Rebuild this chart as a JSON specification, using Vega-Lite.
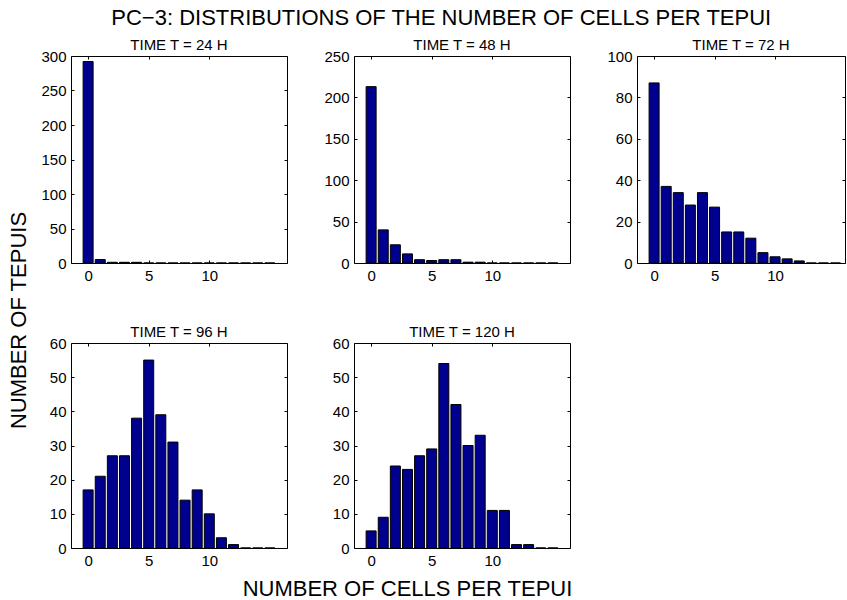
{
  "$schema": "https://vega.github.io/schema/vega-lite/v6.json",
  "padding": {"left": 6, "top": 6, "right": 0, "bottom": 0},
  "title": {"text": "PC−3: DISTRIBUTIONS OF THE NUMBER OF CELLS PER TEPUI", "fontSize": 22, "anchor": "middle", "fontWeight": "normal", "color": "#000", "offset": 8, "dx": 15, "frame": "bounds"},
  "data": {"values": [
    {"t": 24, "cells": 0, "count": 292}, {"t": 24, "cells": 1, "count": 5}, {"t": 24, "cells": 2, "count": 1}, {"t": 24, "cells": 3, "count": 1},
    {"t": 24, "cells": 4, "count": 1}, {"t": 24, "cells": 5, "count": 0}, {"t": 24, "cells": 6, "count": 0}, {"t": 24, "cells": 7, "count": 0},
    {"t": 24, "cells": 8, "count": 0}, {"t": 24, "cells": 9, "count": 0}, {"t": 24, "cells": 10, "count": 0}, {"t": 24, "cells": 11, "count": 0},
    {"t": 24, "cells": 12, "count": 0}, {"t": 24, "cells": 13, "count": 0}, {"t": 24, "cells": 14, "count": 0}, {"t": 24, "cells": 15, "count": 0},
    {"t": 48, "cells": 0, "count": 213}, {"t": 48, "cells": 1, "count": 40}, {"t": 48, "cells": 2, "count": 22}, {"t": 48, "cells": 3, "count": 11},
    {"t": 48, "cells": 4, "count": 4}, {"t": 48, "cells": 5, "count": 3}, {"t": 48, "cells": 6, "count": 4}, {"t": 48, "cells": 7, "count": 4},
    {"t": 48, "cells": 8, "count": 1}, {"t": 48, "cells": 9, "count": 1}, {"t": 48, "cells": 10, "count": 0}, {"t": 48, "cells": 11, "count": 0},
    {"t": 48, "cells": 12, "count": 0}, {"t": 48, "cells": 13, "count": 0}, {"t": 48, "cells": 14, "count": 0}, {"t": 48, "cells": 15, "count": 0},
    {"t": 72, "cells": 0, "count": 87}, {"t": 72, "cells": 1, "count": 37}, {"t": 72, "cells": 2, "count": 34}, {"t": 72, "cells": 3, "count": 28},
    {"t": 72, "cells": 4, "count": 34}, {"t": 72, "cells": 5, "count": 27}, {"t": 72, "cells": 6, "count": 15}, {"t": 72, "cells": 7, "count": 15},
    {"t": 72, "cells": 8, "count": 12}, {"t": 72, "cells": 9, "count": 5}, {"t": 72, "cells": 10, "count": 3}, {"t": 72, "cells": 11, "count": 2},
    {"t": 72, "cells": 12, "count": 1}, {"t": 72, "cells": 13, "count": 0}, {"t": 72, "cells": 14, "count": 0}, {"t": 72, "cells": 15, "count": 0},
    {"t": 96, "cells": 0, "count": 17}, {"t": 96, "cells": 1, "count": 21}, {"t": 96, "cells": 2, "count": 27}, {"t": 96, "cells": 3, "count": 27},
    {"t": 96, "cells": 4, "count": 38}, {"t": 96, "cells": 5, "count": 55}, {"t": 96, "cells": 6, "count": 39}, {"t": 96, "cells": 7, "count": 31},
    {"t": 96, "cells": 8, "count": 14}, {"t": 96, "cells": 9, "count": 17}, {"t": 96, "cells": 10, "count": 10}, {"t": 96, "cells": 11, "count": 3},
    {"t": 96, "cells": 12, "count": 1}, {"t": 96, "cells": 13, "count": 0}, {"t": 96, "cells": 14, "count": 0}, {"t": 96, "cells": 15, "count": 0},
    {"t": 120, "cells": 0, "count": 5}, {"t": 120, "cells": 1, "count": 9}, {"t": 120, "cells": 2, "count": 24}, {"t": 120, "cells": 3, "count": 23},
    {"t": 120, "cells": 4, "count": 27}, {"t": 120, "cells": 5, "count": 29}, {"t": 120, "cells": 6, "count": 54}, {"t": 120, "cells": 7, "count": 42},
    {"t": 120, "cells": 8, "count": 30}, {"t": 120, "cells": 9, "count": 33}, {"t": 120, "cells": 10, "count": 11}, {"t": 120, "cells": 11, "count": 11},
    {"t": 120, "cells": 12, "count": 1}, {"t": 120, "cells": 13, "count": 1}, {"t": 120, "cells": 14, "count": 0}, {"t": 120, "cells": 15, "count": 0}
  ]},
  "columns": 3,
  "spacing": {"row": 80, "column": 67},
  "bounds": "flush",
  "concat": [
    {
      "width": 216, "height": 207,
      "title": "TIME T = 24 H",
      "transform": [{"filter": "datum.t == 24"}],
      "layer": [
        {
          "mark": {"type": "bar", "width": 10, "fill": "#00008f", "stroke": "#000", "strokeWidth": 1},
          "encoding": {
            "x": {"field": "cells", "type": "quantitative", "scale": {"domain": [-1, 16], "nice": false, "zero": false}, "axis": {"values": [0, 5, 10], "title": null}},
            "y": {"field": "count", "type": "quantitative", "stack": null, "scale": {"domain": [0, 300], "nice": false},
                  "axis": {"values": [0, 50, 100, 150, 200, 250, 300], "title": "NUMBER OF TEPUIS", "titleX": -53, "titleY": 264, "titleAngle": 270, "titleAlign": "center", "titleBaseline": "middle", "titleFontSize": 22, "titleFontWeight": "normal"}}
          }
        },
        {
          "mark": {"type": "bar", "width": 10, "opacity": 0},
          "encoding": {
            "x": {"field": "cells", "type": "quantitative", "axis": {"orient": "top", "values": [0, 5, 10], "labels": false, "title": null}},
            "y": {"field": "count", "type": "quantitative", "stack": null, "axis": {"orient": "right", "values": [0, 50, 100, 150, 200, 250, 300], "labels": false, "title": null}}
          }
        }
      ],
      "resolve": {"axis": {"x": "independent", "y": "independent"}}
    },
    {
      "width": 216, "height": 207,
      "title": "TIME T = 48 H",
      "transform": [{"filter": "datum.t == 48"}],
      "layer": [
        {
          "mark": {"type": "bar", "width": 10, "fill": "#00008f", "stroke": "#000", "strokeWidth": 1},
          "encoding": {
            "x": {"field": "cells", "type": "quantitative", "scale": {"domain": [-1, 16], "nice": false, "zero": false}, "axis": {"values": [0, 5, 10], "title": null}},
            "y": {"field": "count", "type": "quantitative", "stack": null, "scale": {"domain": [0, 250], "nice": false}, "axis": {"values": [0, 50, 100, 150, 200, 250], "title": null}}
          }
        },
        {
          "mark": {"type": "bar", "width": 10, "opacity": 0},
          "encoding": {
            "x": {"field": "cells", "type": "quantitative", "axis": {"orient": "top", "values": [0, 5, 10], "labels": false, "title": null}},
            "y": {"field": "count", "type": "quantitative", "stack": null, "axis": {"orient": "right", "values": [0, 50, 100, 150, 200, 250], "labels": false, "title": null}}
          }
        }
      ],
      "resolve": {"axis": {"x": "independent", "y": "independent"}}
    },
    {
      "width": 208, "height": 207,
      "title": "TIME T = 72 H",
      "transform": [{"filter": "datum.t == 72"}],
      "layer": [
        {
          "mark": {"type": "bar", "width": 10, "fill": "#00008f", "stroke": "#000", "strokeWidth": 1},
          "encoding": {
            "x": {"field": "cells", "type": "quantitative", "scale": {"domain": [-1, 15.37], "nice": false, "zero": false}, "axis": {"values": [0, 5, 10], "title": null}},
            "y": {"field": "count", "type": "quantitative", "stack": null, "scale": {"domain": [0, 100], "nice": false}, "axis": {"values": [0, 20, 40, 60, 80, 100], "title": null}}
          }
        },
        {
          "mark": {"type": "bar", "width": 10, "opacity": 0},
          "encoding": {
            "x": {"field": "cells", "type": "quantitative", "axis": {"orient": "top", "values": [0, 5, 10], "labels": false, "title": null}},
            "y": {"field": "count", "type": "quantitative", "stack": null, "axis": {"orient": "right", "values": [0, 20, 40, 60, 80, 100], "labels": false, "title": null}}
          }
        }
      ],
      "resolve": {"axis": {"x": "independent", "y": "independent"}}
    },
    {
      "width": 216, "height": 205,
      "title": "TIME T = 96 H",
      "transform": [{"filter": "datum.t == 96"}],
      "layer": [
        {
          "mark": {"type": "bar", "width": 10, "fill": "#00008f", "stroke": "#000", "strokeWidth": 1},
          "encoding": {
            "x": {"field": "cells", "type": "quantitative", "scale": {"domain": [-1, 16], "nice": false, "zero": false},
                  "axis": {"values": [0, 5, 10], "title": "NUMBER OF CELLS PER TEPUI", "titleX": 336, "titleY": 47, "titleAlign": "center", "titleBaseline": "alphabetic", "titleFontSize": 22, "titleFontWeight": "normal"}},
            "y": {"field": "count", "type": "quantitative", "stack": null, "scale": {"domain": [0, 60], "nice": false}, "axis": {"values": [0, 10, 20, 30, 40, 50, 60], "title": null}}
          }
        },
        {
          "mark": {"type": "bar", "width": 10, "opacity": 0},
          "encoding": {
            "x": {"field": "cells", "type": "quantitative", "axis": {"orient": "top", "values": [0, 5, 10], "labels": false, "title": null}},
            "y": {"field": "count", "type": "quantitative", "stack": null, "axis": {"orient": "right", "values": [0, 10, 20, 30, 40, 50, 60], "labels": false, "title": null}}
          }
        }
      ],
      "resolve": {"axis": {"x": "independent", "y": "independent"}}
    },
    {
      "width": 216, "height": 205,
      "title": "TIME T = 120 H",
      "transform": [{"filter": "datum.t == 120"}],
      "layer": [
        {
          "mark": {"type": "bar", "width": 10, "fill": "#00008f", "stroke": "#000", "strokeWidth": 1},
          "encoding": {
            "x": {"field": "cells", "type": "quantitative", "scale": {"domain": [-1, 16], "nice": false, "zero": false}, "axis": {"values": [0, 5, 10], "title": null}},
            "y": {"field": "count", "type": "quantitative", "stack": null, "scale": {"domain": [0, 60], "nice": false}, "axis": {"values": [0, 10, 20, 30, 40, 50, 60], "title": null}}
          }
        },
        {
          "mark": {"type": "bar", "width": 10, "opacity": 0},
          "encoding": {
            "x": {"field": "cells", "type": "quantitative", "axis": {"orient": "top", "values": [0, 5, 10], "labels": false, "title": null}},
            "y": {"field": "count", "type": "quantitative", "stack": null, "axis": {"orient": "right", "values": [0, 10, 20, 30, 40, 50, 60], "labels": false, "title": null}}
          }
        }
      ],
      "resolve": {"axis": {"x": "independent", "y": "independent"}}
    }
  ],
  "config": {
    "font": "Liberation Sans",
    "background": "#ffffff",
    "view": {"stroke": "#000", "strokeWidth": 1},
    "axis": {"domain": false, "grid": false, "tickColor": "#000", "tickSize": -3, "labelColor": "#000", "labelFontSize": 15, "labelPadding": 8, "titleColor": "#000"},
    "title": {"fontSize": 15, "fontWeight": "normal", "color": "#000", "offset": -4, "frame": "group"}
  }
}
